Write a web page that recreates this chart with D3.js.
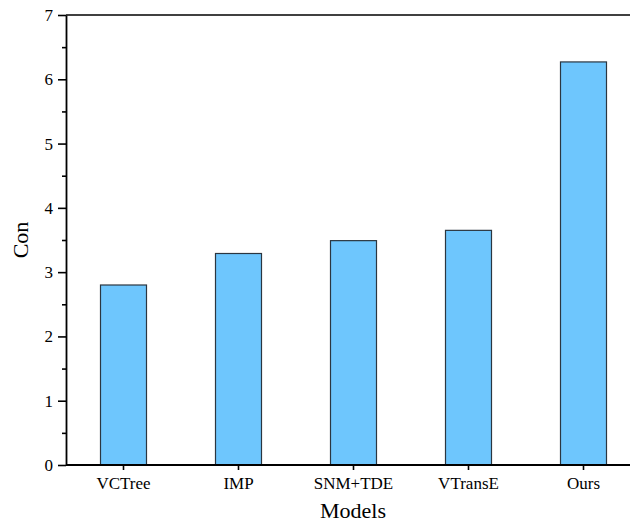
<!DOCTYPE html>
<html>
<head>
<meta charset="utf-8">
<script src="https://cdn.jsdelivr.net/npm/d3@7"></script>
<style>
  html, body { margin: 0; padding: 0; background: #fff; }
  svg { display: block; }
  text { font-family: "Liberation Serif", "Times New Roman", Times, serif; fill: #000; }
</style>
</head>
<body>
<svg id="chart" width="630" height="523"></svg>
<script>
// Consistency score per model
const models = ["VCTree", "IMP", "SNM+TDE", "VTransE", "Ours"];
const conValues = [2.8, 3.29, 3.49, 3.65, 6.27];
const yTicks = [0, 1, 2, 3, 4, 5, 6, 7];
const yMinorTicks = [0.5, 1.5, 2.5, 3.5, 4.5, 5.5, 6.5];

const svg = d3.select("#chart");
const plotLeft = 66, plotTop = 15, plotBottom = 465, plotRight = 641;
const serif = '"Liberation Serif", "Times New Roman", Times, serif';

const x = d3.scaleBand()
  .domain(models)
  .range([plotLeft, plotRight])
  .paddingInner(0.6)
  .paddingOuter(0.3);

const y = d3.scaleLinear().domain([0, 7]).range([plotBottom, plotTop]);

// bars
svg.append("g").selectAll("rect")
  .data(models.map((m, i) => ({ m, v: conValues[i] })))
  .join("rect")
  .attr("x", d => x(d.m))
  .attr("width", x.bandwidth())
  .attr("y", d => y(d.v))
  .attr("height", d => y(0) - y(d.v))
  .attr("fill", "#6EC6FD")
  .attr("stroke", "#2b3640")
  .attr("stroke-width", 1.2);

// frame: top border
svg.append("line")
  .attr("x1", plotLeft).attr("x2", 630)
  .attr("y1", plotTop).attr("y2", plotTop)
  .attr("stroke", "#000").attr("stroke-width", 1.6);

// y axis minor ticks
const yMinor = svg.append("g").attr("transform", `translate(${plotLeft},0)`)
  .call(d3.axisLeft(y).tickValues(yMinorTicks).tickSize(4).tickFormat(""));
yMinor.select(".domain").remove();
yMinor.selectAll("line").attr("stroke-width", 1.6);

// y axis
const yAxis = svg.append("g").attr("transform", `translate(${plotLeft},0)`)
  .attr("font-family", serif)
  .call(d3.axisLeft(y).tickValues(yTicks).tickSize(8).tickSizeOuter(0).tickPadding(5).tickFormat(d3.format("d")));
yAxis.attr("font-family", serif);
yAxis.select(".domain").attr("stroke-width", 1.8);
yAxis.selectAll("line").attr("stroke-width", 1.6);
yAxis.selectAll("text").attr("font-size", 17).style("font-family", serif);

// x axis
const xAxis = svg.append("g").attr("transform", `translate(0,${plotBottom})`)
  .call(d3.axisBottom(x).tickSize(5).tickSizeOuter(0).tickPadding(7));
xAxis.attr("font-family", serif);
xAxis.select(".domain").attr("d", `M${plotLeft},0H630`).attr("stroke-width", 1.8);
xAxis.selectAll("line").attr("stroke-width", 1.6);
xAxis.selectAll("text").attr("font-size", 17).style("font-family", serif);

// axis titles
svg.append("text")
  .attr("x", 353).attr("y", 518)
  .attr("text-anchor", "middle")
  .attr("font-size", 22)
  .text("Models");

svg.append("text")
  .attr("transform", "translate(28,240) rotate(-90)")
  .attr("text-anchor", "middle")
  .attr("font-size", 22)
  .text("Con");
</script>
</body>
</html>
